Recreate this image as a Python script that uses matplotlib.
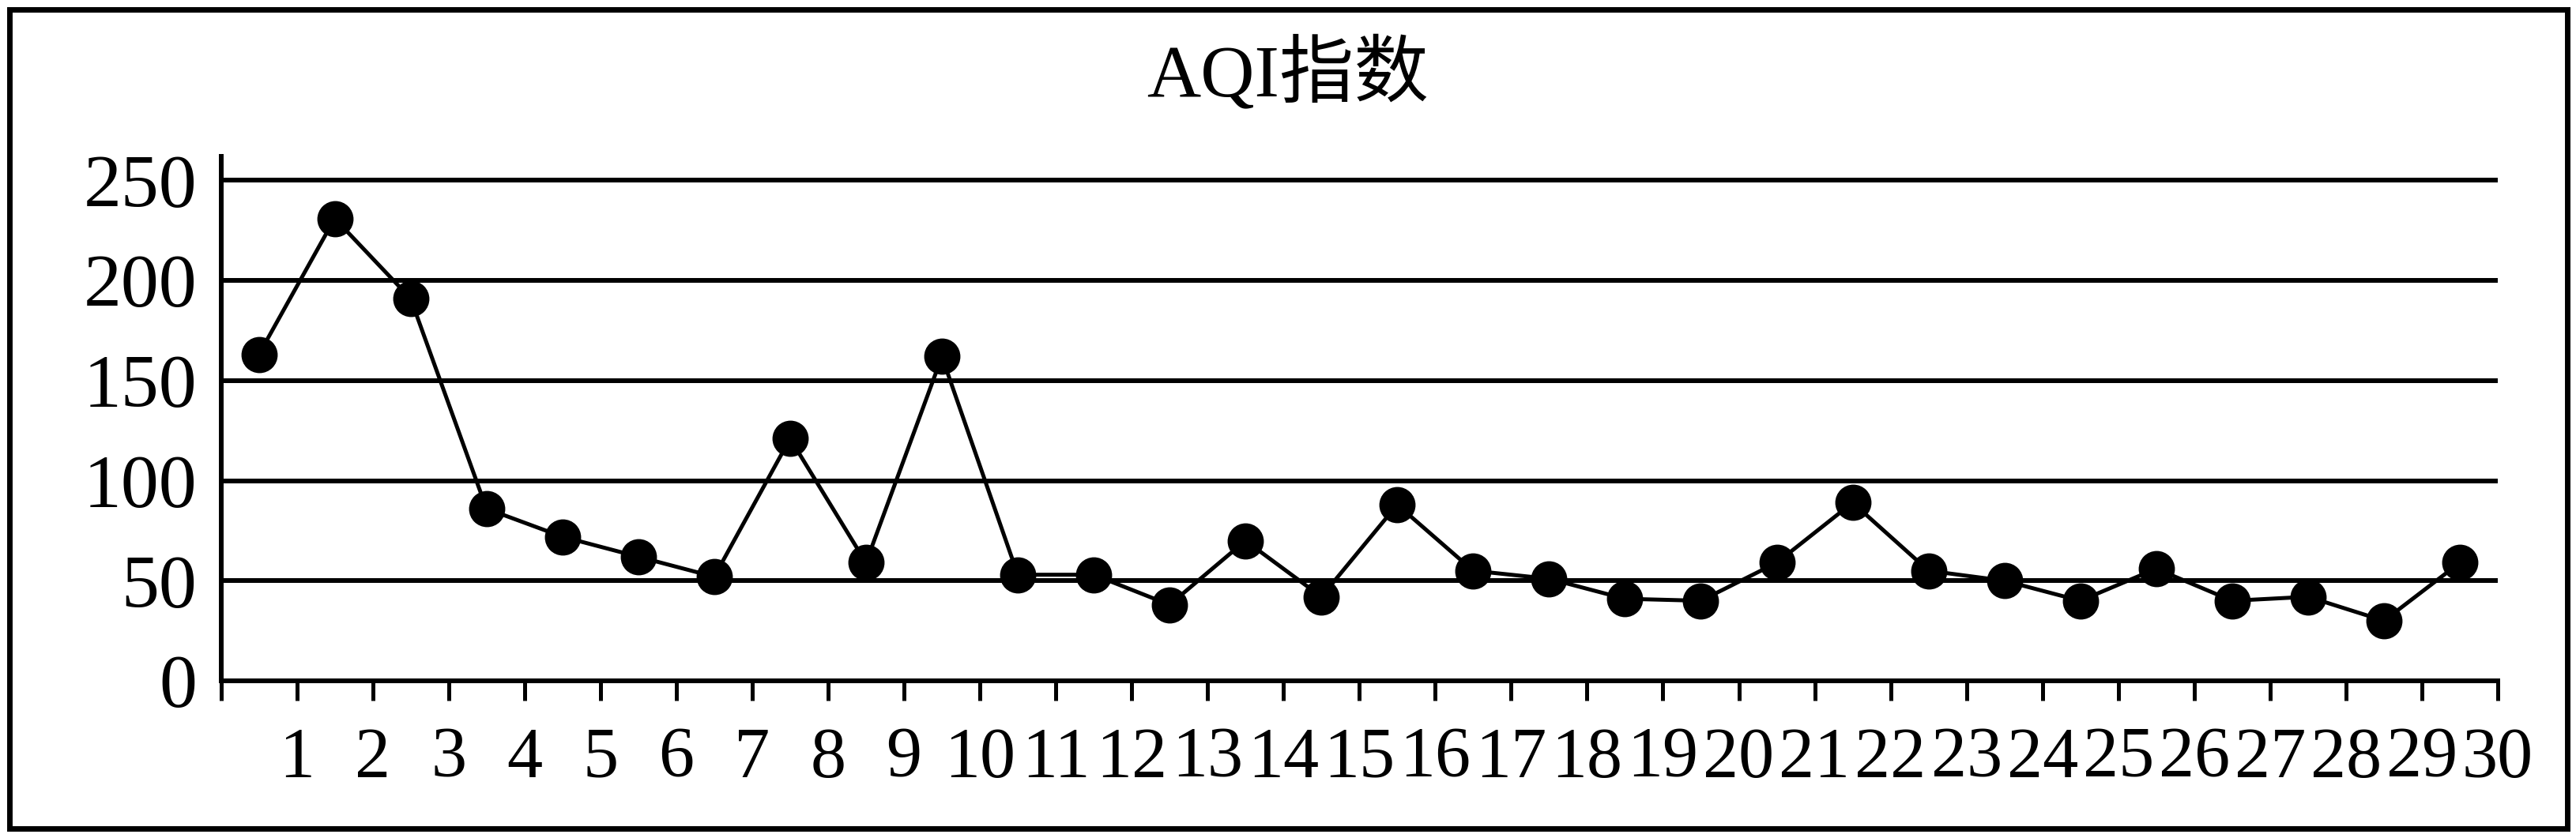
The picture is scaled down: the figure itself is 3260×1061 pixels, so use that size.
import matplotlib
matplotlib.use("Agg")
import matplotlib.pyplot as plt
from matplotlib.patches import Rectangle

title = "AQI指数"
days = list(range(1, 31))
aqi = [163, 231, 191, 86, 72, 62, 52, 121, 59, 162,
       53, 53, 38, 70, 42, 88, 55, 51, 41, 40,
       59, 89, 55, 50, 40, 56, 40, 42, 30, 59]
yticks = [0, 50, 100, 150, 200, 250]

W, H, DPI = 3260, 1061, 100
fig = plt.figure(figsize=(W / DPI, H / DPI), dpi=DPI)
fam = ["Liberation Serif", "Noto Sans CJK SC"]

ax = fig.add_axes([279.5 / W, 1 - 862 / H, (3161 - 279.5) / W, (862 - 198) / H])
x = [d - 0.5 for d in days]
ax.plot(x, aqi, color="black", lw=3.6, marker="o", ms=32, mfc="black", mec="black", zorder=3)

ax.set_xlim(0, 30)
ax.set_ylim(0, 262)
for v in yticks[1:]:
    ax.axhline(v, color="black", lw=4.3, zorder=1)

for s in ["top", "right"]:
    ax.spines[s].set_visible(False)
for s in ["left", "bottom"]:
    ax.spines[s].set_linewidth(4.3)
    ax.spines[s].set_color("black")

ax.set_xticks([0] + days)
ax.set_xticklabels([""] + [str(d) for d in days], fontfamily=fam, fontsize=65)
ax.set_yticks(yticks)
ax.set_yticklabels([str(v) for v in yticks], fontfamily=fam, fontsize=69)
ax.tick_params(axis="x", direction="out", length=18, width=3.6, pad=24)
ax.tick_params(axis="y", length=0, pad=22)

fig.text(0.5, 1 - 94 / H, title, ha="center", va="center", fontsize=68, family=fam)

fig.patches.append(Rectangle((11.5 / W, 1 - 1049 / H), (3248.5 - 11.5) / W, (1049 - 11.5) / H,
                             transform=fig.transFigure, fill=False, lw=5, ec="black"))

fig.savefig("out.png", dpi=DPI)
